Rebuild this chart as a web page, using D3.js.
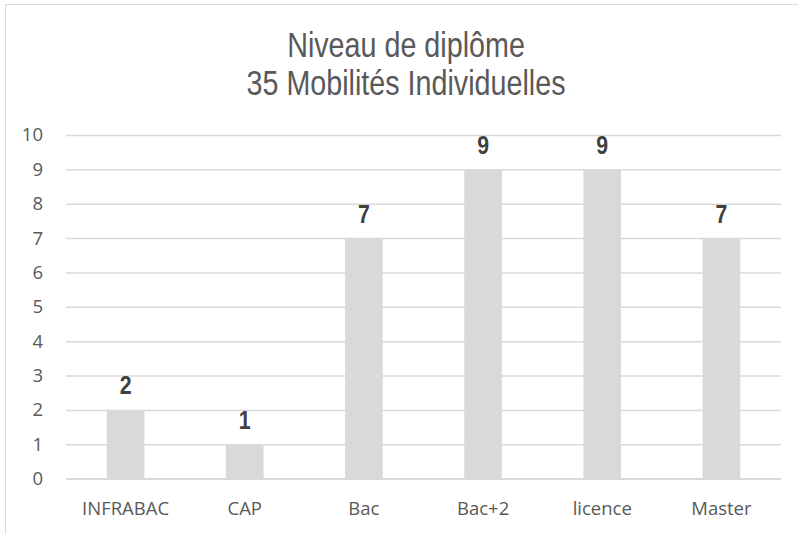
<!DOCTYPE html>
<html><head><meta charset="utf-8">
<script src="https://cdn.jsdelivr.net/npm/d3@7"></script>
<style>body{margin:0;background:#fff}svg{display:block}</style>
</head><body>
<script>
const titleLines = ["Niveau de diplôme", "35 Mobilités Individuelles"];
const categories = ["INFRABAC", "CAP", "Bac", "Bac+2", "licence", "Master"];
const values = [2, 1, 7, 9, 9, 7];
const yTicks = [0,1,2,3,4,5,6,7,8,9,10];

const W = 798, H = 534;
const svg = d3.select("body").append("svg").attr("width", W).attr("height", H);
svg.append("rect").attr("width", W).attr("height", H).attr("fill", "#fff");
svg.append("rect").attr("x", 5.5).attr("y", 4.5).attr("width", 820).attr("height", 560)
  .attr("fill", "none").attr("stroke", "#d9d9d9").attr("stroke-width", 1);

const x = d3.scaleBand().domain(categories).range([66, 781]).padding(0);
const y = d3.scaleLinear().domain([0, 10]).range([478.7, 135]);

titleLines.forEach((t, i) => {
  svg.append("text").attr("text-anchor", "middle")
    .attr("transform", `translate(406,${57 + i * 38}) scale(0.82,1)`)
    .attr("font-family", "'Liberation Sans',Arial,sans-serif")
    .attr("font-size", 35).attr("fill", "#595959").text(t);
});

// gridlines
const gAxis = svg.append("g").attr("transform", "translate(66,0)")
  .call(d3.axisLeft(y).tickValues(yTicks).tickSize(-715).tickFormat(d3.format("d")).tickPadding(23));
gAxis.select(".domain").remove();
gAxis.selectAll(".tick line").attr("stroke", "#d9d9d9").attr("stroke-width", 1.5);
gAxis.selectAll(".tick text").attr("font-family", "'Open Sans',sans-serif").attr("font-size", 18.5)
  .attr("fill", "#595959");

const bw = x.bandwidth() * 0.316;
svg.append("g").selectAll("rect").data(values).join("rect")
  .attr("x", (d, i) => x(categories[i]) + (x.bandwidth() - bw) / 2)
  .attr("width", bw)
  .attr("y", d => y(d))
  .attr("height", d => y(0) - y(d))
  .attr("fill", "#d9d9d9");

// baseline
svg.append("line").attr("x1", 66).attr("x2", 781).attr("y1", y(0)).attr("y2", y(0))
  .attr("stroke", "#d9d9d9").attr("stroke-width", 1.5);

svg.append("g").selectAll("text").data(values).join("text")
  .attr("transform", (d, i) => `translate(${x(categories[i]) + x.bandwidth() / 2},${y(d) - 15.5}) scale(0.82,1)`)
  .attr("text-anchor", "middle")
  .attr("font-family", "'Liberation Sans',Arial,sans-serif")
  .attr("font-weight", "bold").attr("font-size", 26).attr("fill", "#404040")
  .text(d => d);

const xAxis = svg.append("g").attr("transform", `translate(0,${y(0)})`)
  .call(d3.axisBottom(x).tickSize(0).tickPadding(0));
xAxis.select(".domain").remove();
xAxis.selectAll(".tick text").attr("dy", null).attr("y", 36.3)
  .attr("font-family", "'Open Sans',sans-serif").attr("font-size", 18.5).attr("fill", "#595959");
</script>
</body></html>
